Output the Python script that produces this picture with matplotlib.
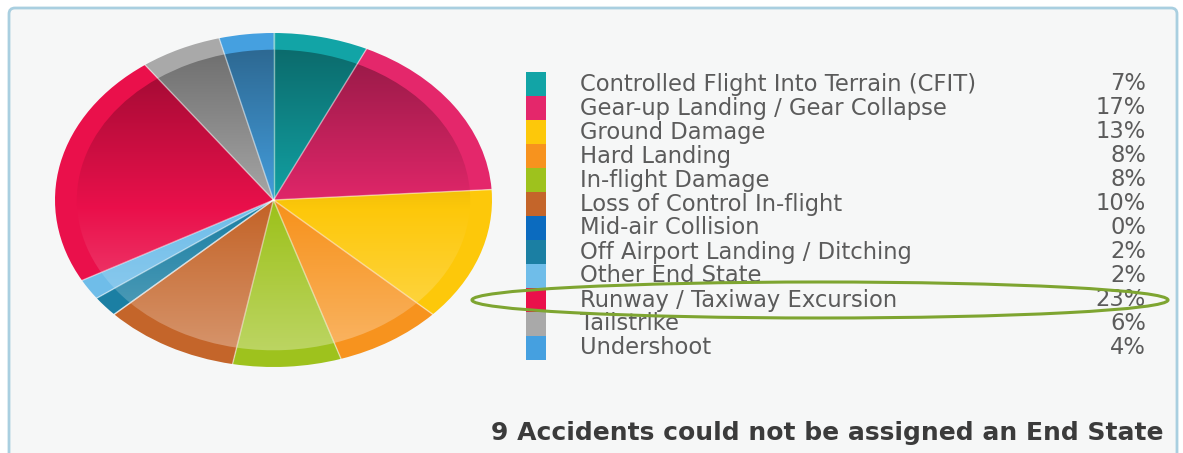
import numpy as np
import matplotlib.pyplot as plt
from matplotlib.colors import to_rgb
from matplotlib.patches import Ellipse, FancyBboxPatch

# End state categories, share of accidents (%) and colours
categories = [
    "Controlled Flight Into Terrain (CFIT)",
    "Gear-up Landing / Gear Collapse",
    "Ground Damage",
    "Hard Landing",
    "In-flight Damage",
    "Loss of Control In-flight",
    "Mid-air Collision",
    "Off Airport Landing / Ditching",
    "Other End State",
    "Runway / Taxiway Excursion",
    "Tailstrike",
    "Undershoot",
]
shares = [7, 17, 13, 8, 8, 10, 0, 2, 2, 23, 6, 4]
colors = [
    "#12a4a6", "#e4276b", "#fdc80a", "#f7931e", "#9ec21d", "#c4652a",
    "#0b6bbf", "#1b7fa3", "#6fbde9", "#ea104b", "#a9a9a9", "#45a0e0",
]
highlight = "Runway / Taxiway Excursion"
footnote = "9 Accidents could not be assigned an End State"

W, H = 1183, 453
fig = plt.figure(figsize=(W / 100, H / 100), dpi=100)
fig.patch.set_facecolor("white")

# canvas axes in pixel units for frame, legend and notes
bg = fig.add_axes([0, 0, 1, 1])
bg.set_xlim(0, W)
bg.set_ylim(H, 0)
bg.axis("off")
bg.add_patch(FancyBboxPatch((9, 8), 1168, 452, boxstyle="round,pad=0,rounding_size=6",
                            facecolor="#f6f7f7", edgecolor="#a9cfe0", lw=2))

# pie (elliptical, drawn into its own axes with auto aspect)
pie_ax = fig.add_axes([55 / W, (H - 367) / H, 437 / W, 334 / H])
rim, _ = pie_ax.pie(shares, colors=colors, startangle=90, counterclock=False, radius=1.0,
                    wedgeprops=dict(edgecolor="none", linewidth=0))
inner, _ = pie_ax.pie(shares, colors=colors, startangle=90, counterclock=False, radius=0.9,
                      wedgeprops=dict(edgecolor="none", linewidth=0))


def shade(c, f):
    c = np.array(to_rgb(c))
    if f < 0:
        return c * (1 + f)
    return c + (1 - c) * f


# vertical light-to-dark gradient on the inner part of every wedge
t = np.linspace(0, 1, 256)
for w, c in zip(inner, colors):
    grad = np.array([list(shade(c, -0.38 + 0.72 * v)) + [1.0] for v in t]).reshape(256, 1, 4)
    im = pie_ax.imshow(grad, extent=(-1, 1, -1, 1), aspect="auto", origin="upper",
                       zorder=w.get_zorder() + 0.1)
    im.set_clip_path(w)

# thin light separators between slices
for w in rim:
    a = np.deg2rad(w.theta1)
    pie_ax.plot([0, np.cos(a)], [0, np.sin(a)], color="white", alpha=0.5, lw=1, zorder=5)

pie_ax.set_aspect("auto")
pie_ax.set_xlim(-1, 1)
pie_ax.set_ylim(-1, 1)
pie_ax.axis("off")

# legend: colour swatches, names and percentages
row_h = 24
top = 72
for i, (name, val, c) in enumerate(zip(categories, shares, colors)):
    y = top + i * row_h
    bg.add_patch(plt.Rectangle((526, y), 20, row_h, facecolor=c, edgecolor="none"))
    bg.text(580, y + row_h / 2, name, fontsize=16.3, color="#5b5b5b", va="center", ha="left")
    bg.text(1146, y + row_h / 2, f"{val}%", fontsize=16.3, color="#5b5b5b", va="center", ha="right")

# ring around the highlighted category
k = categories.index(highlight)
bg.add_patch(Ellipse((820, top + k * row_h + row_h / 2), 696, 36, facecolor="none",
                     edgecolor="#7ea531", lw=2.2, zorder=5))

bg.text(1164, 433, footnote, fontsize=18, fontweight="bold", color="#3b3b3b",
        ha="right", va="center")

fig.savefig("out.png", dpi=100)
